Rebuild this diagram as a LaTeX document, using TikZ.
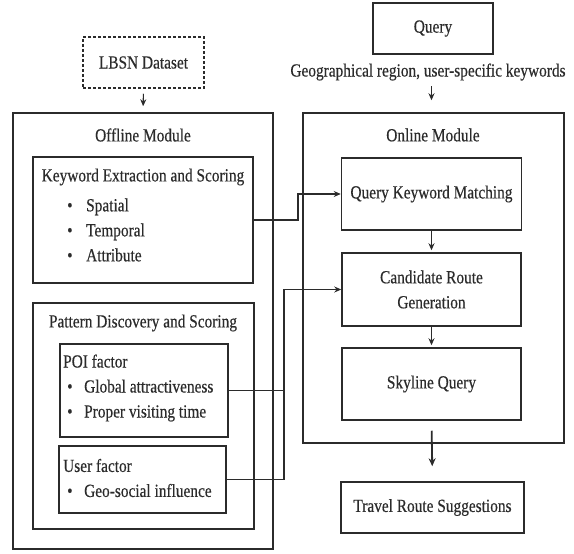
\documentclass[tikz,border=0pt]{standalone}
\usepackage{fontspec}
\setmainfont[FakeStretch=0.83, FakeBold=0.4]{Liberation Serif}
\usetikzlibrary{arrows.meta}
\definecolor{ink}{HTML}{2B2B2B}
\begin{document}
\begin{tikzpicture}[x=1pt,y=-1pt,
  every node/.style={text=ink},
  box/.style={draw=ink, line width=1.5pt, inner sep=0pt},
  dashbox/.style={box, dashed, dash pattern=on 3pt off 2pt},
  lbl/.style={inner sep=0pt, font=\fontsize{18.5}{25}\selectfont},
  lst/.style={lbl, align=left, anchor=west},
  link/.style={draw=ink, line width=1.1pt},
  arr/.style={link, -{Stealth[length=7pt,width=6pt]}},
  bigarr/.style={draw=ink, line width=1.8pt, -{Stealth[length=8pt,width=7pt]}}]
\newcommand{\bul}{\makebox[19pt][l]{\textbullet}}
\newcommand{\ibul}{\hspace{4pt}\makebox[17pt][l]{\textbullet}}
\useasboundingbox (0,0) rectangle (574,554);

% ---- offline side ----
\node[dashbox, minimum width=121pt, minimum height=51pt] (lbsn) at (143.5,62.5) {};
\node[lbl] (lbsnt) at (lbsn.center) {LBSN Dataset};

\node[box, minimum width=260pt, minimum height=436pt] (offline) at (143,331) {};
\node[lbl] (offt) at (143,135) {Offline Module};

\node[box, minimum width=220pt, minimum height=126pt] (kw) at (143,220) {};
\node[lbl] (kwt) at (143,177) {Keyword Extraction and Scoring};
\node[lst] (kwl) at (67,230) {\bul Spatial\\ \bul Temporal\\ \bul Attribute};

\node[box, minimum width=221pt, minimum height=226pt] (pat) at (143.5,416) {};
\node[lbl] (patt) at (143,323) {Pattern Discovery and Scoring};

\node[box, minimum width=168pt, minimum height=93pt] (poi) at (144,390.5) {};
\node[lst] (poil) at (63,388) {POI factor\\ \ibul Global attractiveness\\ \ibul Proper visiting time};

\node[box, minimum width=167pt, minimum height=67pt] (user) at (142.5,479.5) {};
\node[lst] (userl) at (63,478) {User factor\\ \ibul Geo-social influence};

% ---- online side ----
\node[box, minimum width=120pt, minimum height=51pt] (query) at (433,28.5) {};
\node[lbl] (queryt) at (query.center) {Query};
\node[lbl] (geo) at (428,72) {Geographical region, user-specific keywords};

\node[box, minimum width=261pt, minimum height=330pt] (online) at (433.5,278) {};
\node[lbl] (ont) at (433,135) {Online Module};

\node[box, minimum width=180pt, minimum height=72pt] (qkm) at (431.5,194) {};
\node[lbl] (qkmt) at (qkm.center) {Query Keyword Matching};

\node[box, minimum width=179pt, minimum height=73pt] (crg) at (431.5,289.5) {};
\node[lbl, align=center] (crgt) at (crg.center) {Candidate Route\\Generation};

\node[box, minimum width=179pt, minimum height=72pt] (sky) at (431.5,384) {};
\node[lbl] (skyt) at (sky.center) {Skyline Query};

\node[box, minimum width=183pt, minimum height=51pt] (travel) at (432.5,507.5) {};
\node[lbl] (travelt) at (travel.center) {Travel Route Suggestions};

% ---- connectors ----
\draw[arr, shorten <=5pt, shorten >=6pt] (lbsn.south) -- (offline.north);
\draw[arr] ([yshift=26pt]qkm.north |- online.north) -- ([yshift=12pt]qkm.north |- online.north);
\draw[arr, shorten >=2pt] (qkm.south) -- (crg.north);
\draw[arr, shorten >=2pt] (crg.south) -- (sky.north);
\draw[bigarr, shorten <=10pt, shorten >=15pt] (sky.south) -- (travel.north);

\coordinate (kwbend) at (298,0);
\draw[arr] (kw.east) -- (kw.east -| kwbend) |- (qkm.west);

\coordinate (bus) at (284,0);
\draw[link] (poi.east) -- (poi.east -| bus);
\draw[arr] (user.east) -- (user.east -| bus) |- (crg.west);
\end{tikzpicture}
\end{document}
